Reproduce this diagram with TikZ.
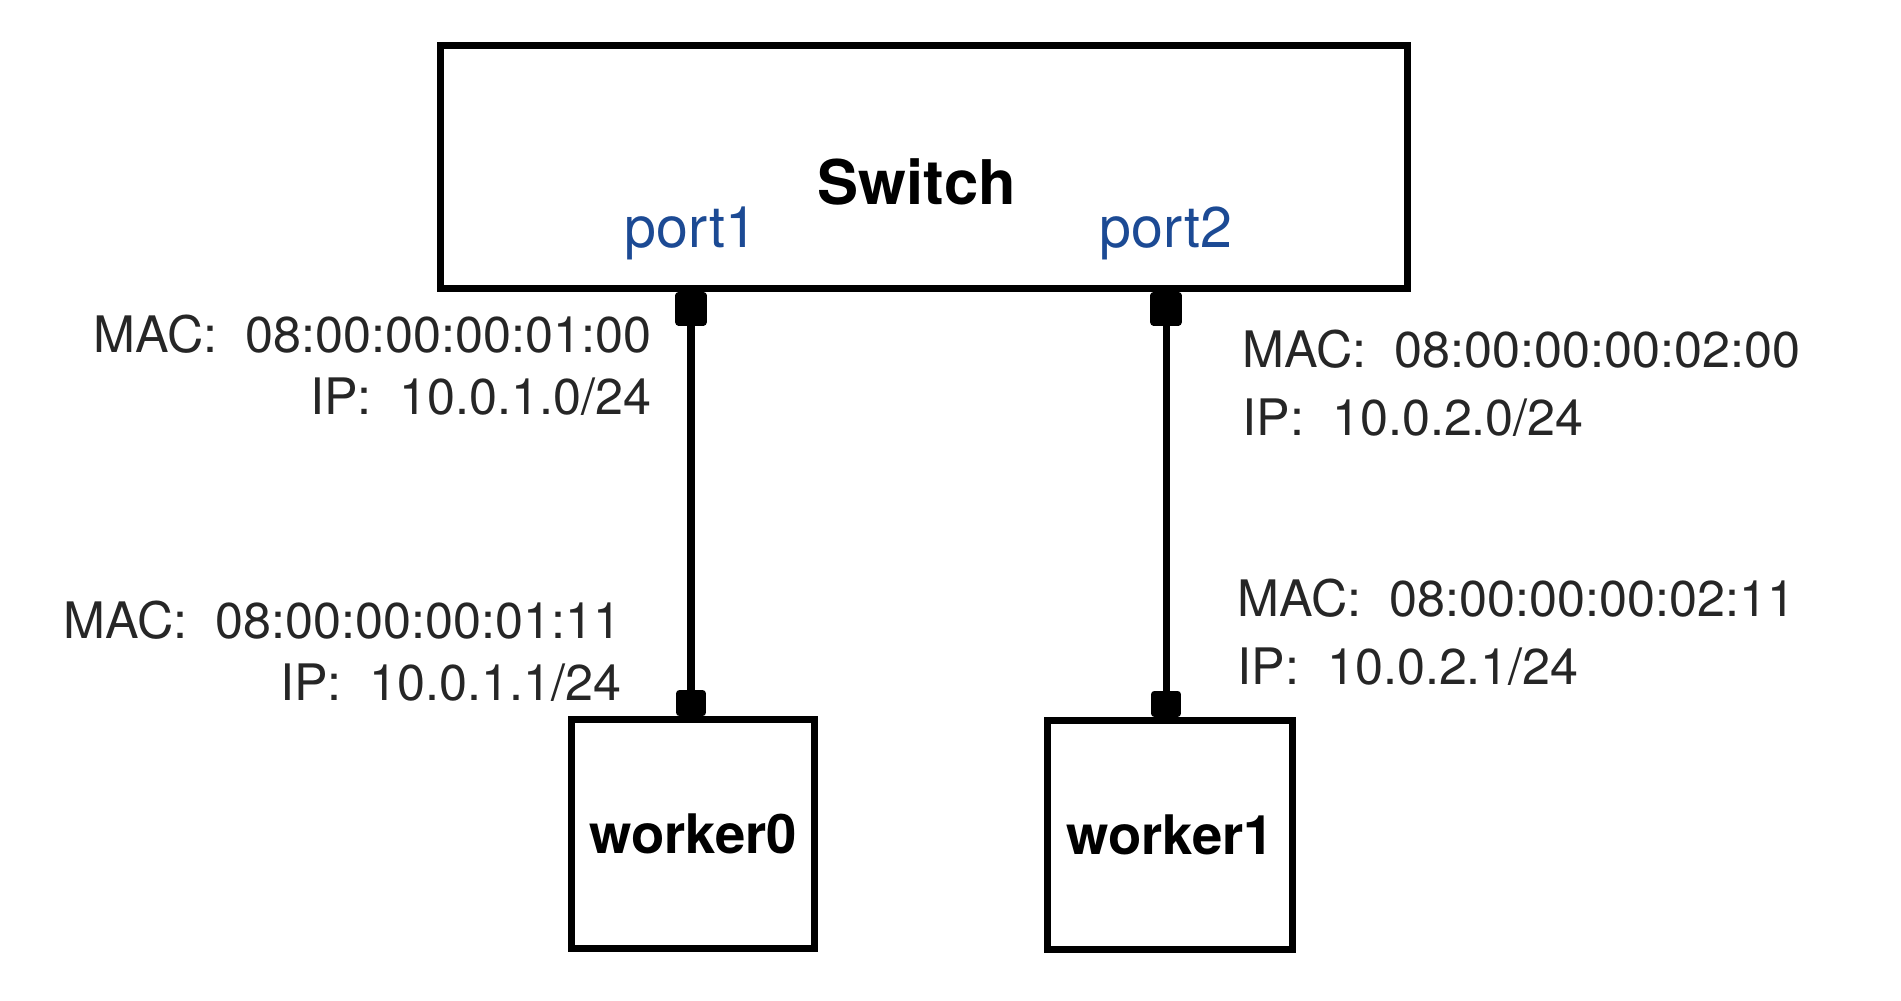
\documentclass[tikz,border=0pt]{standalone}
\usepackage{fontspec}
\setmainfont{TeX Gyre Heros}
\usetikzlibrary{arrows.meta, positioning}
\definecolor{portblue}{RGB}{28,74,148}

\begin{document}
\begin{tikzpicture}[x=0.01cm, y=-0.01cm]
    \tikzstyle{box} = [draw, line width=2pt, inner sep=0pt]
    \tikzstyle{addr} = [inner sep=0pt, text=black!85, font=\fontsize{14.3}{17.5}\selectfont]
    \tikzstyle{link} = [line width=2pt, {Rectangle[length=9.5pt, width=9pt, round]}-{Rectangle[length=7.5pt, width=8.5pt, round]}]
    \useasboundingbox (0, 0) rectangle (1901, 1000);

    % switch
    \node [box, minimum width=9.67cm, minimum height=2.43cm] (switch) at (924, 167) {};
    \node [font=\fontsize{17.5}{20}\selectfont\bfseries] (switchname) at (917, 182) {Switch};
    \node [text=portblue, font=\fontsize{16.3}{19}\selectfont] (port1) at (691, 233) {port1};
    \node [text=portblue, font=\fontsize{16.3}{19}\selectfont] (port2) at (1166, 233) {port2};

    % workers
    \node [box, minimum width=2.42cm, minimum height=2.28cm, font=\fontsize{15.5}{18}\selectfont\bfseries] (worker0) at (693, 834) {worker0};
    \node [box, minimum width=2.44cm, minimum height=2.29cm, font=\fontsize{15.5}{18}\selectfont\bfseries] (worker1) at (1170, 835) {worker1};

    \draw [link] (port1 |- switch.south) -- (port1 |- worker0.north);
    \draw [link] (port2 |- switch.south) -- (port2 |- worker1.north);

    % addresses
    \node [addr, anchor=east, align=right] (sw1addr) at (652, 365) {MAC:~~08:00:00:00:01:00\\IP:~~10.0.1.0/24\hspace{0.9pt}};
    \node [addr, anchor=east, align=right] (w0addr) at (622, 651) {MAC:~~08:00:00:00:01:11\\IP:~~10.0.1.1/24\hspace{0.5pt}};
    \node [addr, anchor=west, align=left, font=\fontsize{14.3}{19.5}\selectfont] (sw2addr) at (1242, 383) {MAC:~~08:00:00:00:02:00\\IP:~~10.0.2.0/24};
    \node [addr, anchor=west, align=left, font=\fontsize{14.3}{19.5}\selectfont] (w1addr) at (1237, 632) {MAC:~~08:00:00:00:02:11\\IP:~~10.0.2.1/24};
\end{tikzpicture}
\end{document}
